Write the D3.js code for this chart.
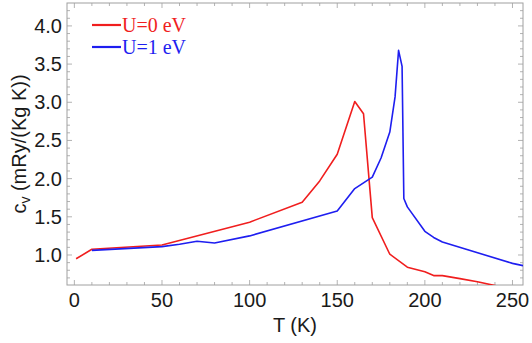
<!DOCTYPE html>
<html>
<head>
<meta charset="utf-8">
<script src="https://cdnjs.cloudflare.com/ajax/libs/d3/7.8.5/d3.min.js"></script>
<style>
  body { margin: 0; background: #fff; }
  svg { display: block; }
</style>
</head>
<body>
<script>
// Data
var tempU0 = [1, 10, 50, 100, 130, 140, 150, 160, 165, 170, 180, 190, 200, 205, 210, 220, 230, 240, 250];
var cvU0   = [0.95, 1.075, 1.13, 1.43, 1.69, 1.97, 2.32, 3.01, 2.85, 1.49, 1.01, 0.84, 0.78, 0.73, 0.73, 0.69, 0.65, 0.60, 0.55];

var tempU1 = [10, 50, 60, 70, 80, 100, 150, 160, 170, 175, 180, 183, 185, 187, 188, 190, 200, 205, 210, 250, 256];
var cvU1   = [1.06, 1.11, 1.14, 1.18, 1.157, 1.25, 1.576, 1.87, 2.02, 2.27, 2.61, 3.07, 3.68, 3.47, 1.74, 1.63, 1.31, 1.23, 1.17, 0.89, 0.86];

var seriesNames = ["U=0 eV", "U=1 eV"];
var seriesColors = ["#f01e1e", "#1e1ef0"];
var xTicks = [0, 50, 100, 150, 200, 250];
var yTicks = [1.0, 1.5, 2.0, 2.5, 3.0, 3.5, 4.0];

var width = 532, height = 343;
var margin = {top: 3, right: 9, bottom: 58, left: 67};

var svg = d3.select("body").append("svg")
    .attr("width", width)
    .attr("height", height);

var x = d3.scaleLinear()
    .domain([-4.2, 256])
    .range([margin.left, width - margin.right]);

var y = d3.scaleLinear()
    .domain([0.607, 4.3])
    .range([height - margin.bottom, margin.top]);

var frameColor = "#a0a0a0";
var font = "Liberation Sans, Arial, sans-serif";

// clip
svg.append("clipPath").attr("id", "clip")
  .append("rect")
    .attr("x", x.range()[0]).attr("y", y.range()[1])
    .attr("width", x.range()[1] - x.range()[0])
    .attr("height", y.range()[0] - y.range()[1]);

// Frame ticks (major + minor on all sides, pointing inward)
var xMinor = d3.range(0, 251, 10);
var yMinor = d3.range(0.7, 4.3, 0.1).map(function (d) { return Math.round(d * 10) / 10; });

var fAxes = svg.append("g");

function isMajorX(d) { return d % 50 === 0; }
function isMajorY(d) { return Math.abs(d * 2 - Math.round(d * 2)) < 1e-6; }

var x0 = x.range()[0], x1 = x.range()[1], y0 = y.range()[0], y1 = y.range()[1];

xMinor.forEach(function (d) {
  var len = isMajorX(d) ? 5 : 3;
  fAxes.append("line").attr("x1", x(d)).attr("x2", x(d)).attr("y1", y0).attr("y2", y0 - len)
    .attr("stroke", frameColor).attr("stroke-width", 0.8);
  fAxes.append("line").attr("x1", x(d)).attr("x2", x(d)).attr("y1", y1).attr("y2", y1 + len)
    .attr("stroke", frameColor).attr("stroke-width", 0.8);
});
yMinor.forEach(function (d) {
  var len = isMajorY(d) ? 5 : 3;
  fAxes.append("line").attr("y1", y(d)).attr("y2", y(d)).attr("x1", x0).attr("x2", x0 + len)
    .attr("stroke", frameColor).attr("stroke-width", 0.8);
  fAxes.append("line").attr("y1", y(d)).attr("y2", y(d)).attr("x1", x1).attr("x2", x1 - len)
    .attr("stroke", frameColor).attr("stroke-width", 0.8);
});

fAxes.append("rect")
    .attr("x", x0).attr("y", y1)
    .attr("width", x1 - x0).attr("height", y0 - y1)
    .attr("fill", "none")
    .attr("stroke", frameColor)
    .attr("stroke-width", 1);

// Tick labels
svg.append("g").selectAll("text")
  .data(xTicks)
  .enter().append("text")
    .attr("x", function (d) { return x(d); })
    .attr("y", y0 + 22)
    .attr("text-anchor", "middle")
    .attr("font-family", font)
    .attr("font-size", "20px")
    .attr("fill", "#1a1a1a")
    .text(function (d) { return d; });

svg.append("g").selectAll("text")
  .data(yTicks)
  .enter().append("text")
    .attr("x", x0 - 5)
    .attr("y", function (d) { return y(d) + 7; })
    .attr("text-anchor", "end")
    .attr("font-family", font)
    .attr("font-size", "20px")
    .attr("fill", "#1a1a1a")
    .text(function (d) { return d.toFixed(1); });

// Axis titles
svg.append("text")
    .attr("x", (x0 + x1) / 2)
    .attr("y", 332)
    .attr("text-anchor", "middle")
    .attr("font-family", font)
    .attr("font-size", "20px")
    .attr("fill", "#1a1a1a")
    .text("T (K)");

var yTitle = svg.append("text")
    .attr("transform", "translate(26," + ((y0 + y1) / 2) + ") rotate(-90)")
    .attr("text-anchor", "middle")
    .attr("font-family", font)
    .attr("font-size", "20px")
    .attr("fill", "#1a1a1a");
yTitle.append("tspan").text("c");
yTitle.append("tspan").attr("font-size", "14px").attr("dy", 4).text("v");
yTitle.append("tspan").attr("dy", -4).text(" (mRy/(Kg K))");

// Lines
var line = d3.line()
    .x(function (d) { return x(d[0]); })
    .y(function (d) { return y(d[1]); });

var series = [d3.zip(tempU0, cvU0), d3.zip(tempU1, cvU1)];

svg.append("g").attr("clip-path", "url(#clip)")
  .selectAll("path")
  .data(series)
  .enter().append("path")
    .attr("d", line)
    .attr("fill", "none")
    .attr("stroke", function (d, i) { return seriesColors[i]; })
    .attr("stroke-width", 1.6)
    .attr("stroke-linejoin", "round");

// Legend
var legend = svg.append("g").attr("transform", "translate(92,25)");
seriesNames.forEach(function (name, i) {
  legend.append("line")
    .attr("x1", 0).attr("x2", 29)
    .attr("y1", i * 22).attr("y2", i * 22)
    .attr("stroke", seriesColors[i])
    .attr("stroke-width", 2.2);
  legend.append("text")
    .attr("x", 30).attr("y", i * 22 + 7)
    .attr("font-family", "Liberation Serif, Times New Roman, serif")
    .attr("font-size", "20px")
    .attr("fill", seriesColors[i])
    .text(name);
});
</script>
</body>
</html>
